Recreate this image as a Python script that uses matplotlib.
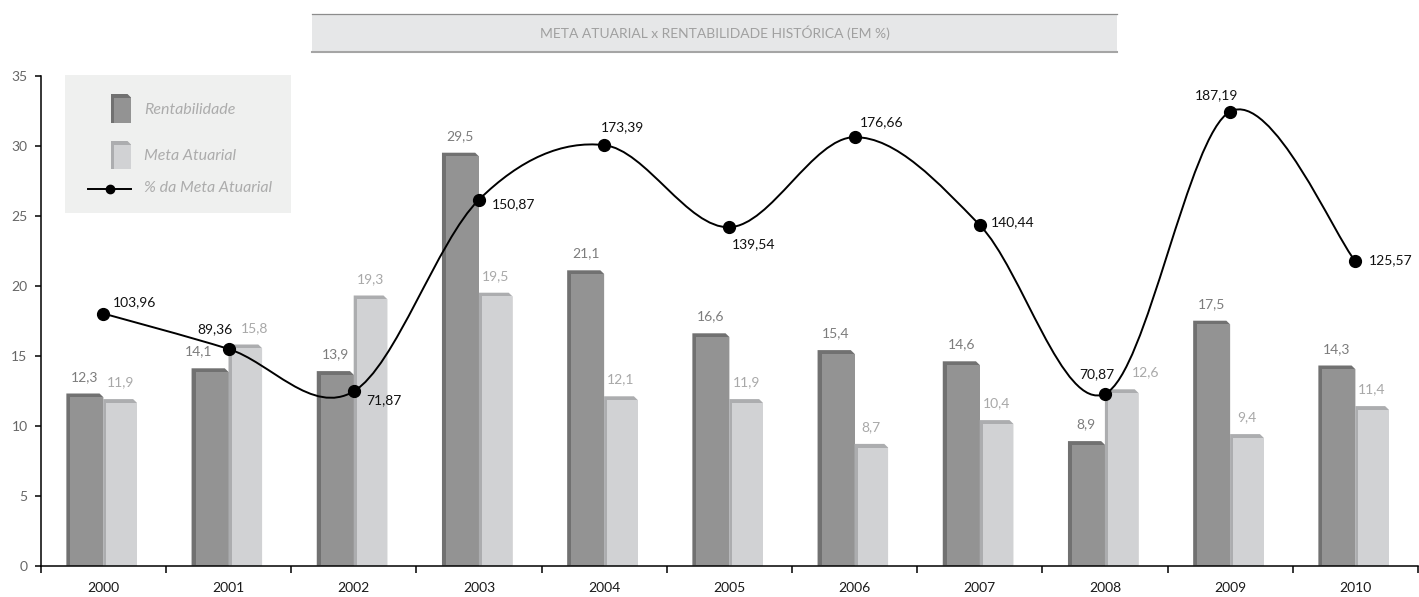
import numpy as np
import matplotlib.pyplot as plt
from matplotlib.path import Path
from matplotlib.patches import PathPatch, Rectangle, Polygon

plt.rcParams['font.family'] = ['Lato', 'DejaVu Sans']

# data
years = ['2000', '2001', '2002', '2003', '2004', '2005', '2006', '2007', '2008', '2009', '2010']
rentabilidade = [12.3, 14.1, 13.9, 29.5, 21.1, 16.6, 15.4, 14.6, 8.9, 17.5, 14.3]
meta_atuarial = [11.9, 15.8, 19.3, 19.5, 12.1, 11.9, 8.7, 10.4, 12.6, 9.4, 11.4]
pct_meta = [103.96, 89.36, 71.87, 150.87, 173.39, 139.54, 176.66, 140.44, 70.87, 187.19, 125.57]

# label nudges (points)
rent_dx = [0, -8, 0, 0, 0, 0, 0, 0, 0, 0, 0]
meta_dx = [0, 7, 0, 0, 0, 0, 0, 0, 17, 0, 0]
line_lbl = [((7, 8), 'left'), ((3, 14), 'right'), ((9, -6), 'left'), ((9, -3), 'left'),
            ((-2, 13), 'left'), ((2, -12), 'left'), ((4, 11), 'left'), ((8, 2), 'left'),
            ((-6, 14), 'center'), ((-10, 12), 'center'), ((10, 1), 'left')]

DARK_FACE, DARK_BACK = '#939393', '#717171'
LIGHT_FACE, LIGHT_BACK = '#d1d2d4', '#acadaf'


def fmt(v, nd):
    return f'{v:.{nd}f}'.replace('.', ',')


def bar3d(ax, x0, x1, top, face, back, side, th, cw, base=0, **kw):
    # back shape (left side + top strip with chamfered corner) then the face
    ax.add_patch(Polygon([(x0, base), (x0, top), (x1 - cw, top), (x1, top - th), (x1, base)],
                         closed=True, facecolor=back, edgecolor='none', **kw))
    ax.add_patch(Rectangle((x0 + side, base), x1 - x0 - side, top - th - base,
                           facecolor=face, edgecolor='none', **kw))


fig = plt.figure(figsize=(14.19, 5.97), dpi=100)
ax = fig.add_axes([40.7 / 1419, 31.3 / 597, 1377.2 / 1419, 490 / 597])
n = len(years)
x = np.arange(n)

for i in range(n):
    bar3d(ax, i - 0.295, i, rentabilidade[i], DARK_FACE, DARK_BACK, 0.032, 0.26, 0.03)
    bar3d(ax, i, i + 0.268, meta_atuarial[i], LIGHT_FACE, LIGHT_BACK, 0.025, 0.26, 0.03)
    ax.annotate(fmt(rentabilidade[i], 1), (i - 0.1475, rentabilidade[i]), xytext=(rent_dx[i], 12),
                textcoords='offset points', ha='center', va='center', fontsize=10, color='#7c7c7c')
    ax.annotate(fmt(meta_atuarial[i], 1), (i + 0.134, meta_atuarial[i]), xytext=(meta_dx[i], 12),
                textcoords='offset points', ha='center', va='center', fontsize=10, color='#a8a8a8')

ax.set_xlim(-0.5, n - 0.5)
ax.set_ylim(0, 35)
ax.set_yticks(range(0, 36, 5))
ax.set_xticks(x)
ax.set_xticklabels(years)
ax.set_xticks(np.arange(-0.5, n), minor=True)
ax.tick_params(axis='x', which='major', length=0, pad=12, labelsize=10, labelcolor='#1a1a1a')
ax.tick_params(axis='x', which='minor', length=5, width=1.1, direction='out')
ax.tick_params(axis='y', length=4.5, width=1.1, pad=5, labelsize=10, labelcolor='#666666')
for s in ['top', 'right']:
    ax.spines[s].set_visible(False)
for s in ['left', 'bottom']:
    ax.spines[s].set_linewidth(1.1)

# smoothed line on a hidden secondary scale
ax2 = ax.twinx()
ax2.set_ylim(0, 202)
ax2.axis('off')
pts = np.column_stack([x, pct_meta]).astype(float)
ext = np.vstack([pts[0], pts, pts[-1]])
verts = [pts[0]]
codes = [Path.MOVETO]
for i in range(n - 1):
    p0, p1, p2, p3 = ext[i], ext[i + 1], ext[i + 2], ext[i + 3]
    verts += [p1 + (p2 - p0) / 6, p2 - (p3 - p1) / 6, p2]
    codes += [Path.CURVE4] * 3
ax2.add_patch(PathPatch(Path(verts, codes), facecolor='none', edgecolor='black', lw=1.4))
ax2.plot(x, pct_meta, 'o', ms=8.5, color='black')
for i in range(n):
    off, ha = line_lbl[i]
    ax2.annotate(fmt(pct_meta[i], 2), (i, pct_meta[i]), xytext=off, textcoords='offset points',
                 ha=ha, va='center', fontsize=10, color='#111111')

# overlay for title box and legend (pixel layout)
ov = fig.add_axes([0, 0, 1, 1], zorder=3)
ov.set_xlim(0, 1419)
ov.set_ylim(597, 0)
ov.axis('off')
ov.patch.set_alpha(0)
ov.add_patch(Rectangle((312, 14), 805, 38, facecolor='#e6e7e8', edgecolor='none'))
ov.plot([312, 1117], [14, 14], color='#8c8c8c', lw=0.9)
ov.plot([312, 1117], [52, 52], color='#a5a5a5', lw=1.5)
ov.text(714.5, 33, 'META ATUARIAL x RENTABILIDADE HISTÓRICA (EM %)', ha='center', va='center',
        fontsize=10, color='#a0a0a0')

ov.add_patch(Rectangle((65, 75), 226, 138, facecolor='#eff0ef', edgecolor='none'))
bar3d(ov, 111, 131, 94, DARK_FACE, DARK_BACK, 3, -3.5, 3.5, base=123)
bar3d(ov, 111, 131, 141, LIGHT_FACE, LIGHT_BACK, 3, -3.5, 3.5, base=169)
ov.plot([88, 131], [189, 189], color='black', lw=1.4)
ov.plot([110], [189], 'o', ms=6, color='black')
for ty, txt in [(110, 'Rentabilidade'), (156, 'Meta Atuarial'), (188, '% da Meta Atuarial')]:
    ov.text(144, ty, txt, ha='left', va='center', fontsize=11.5, style='italic',
            color='#acacac')

fig.savefig('out.png', dpi=100)
